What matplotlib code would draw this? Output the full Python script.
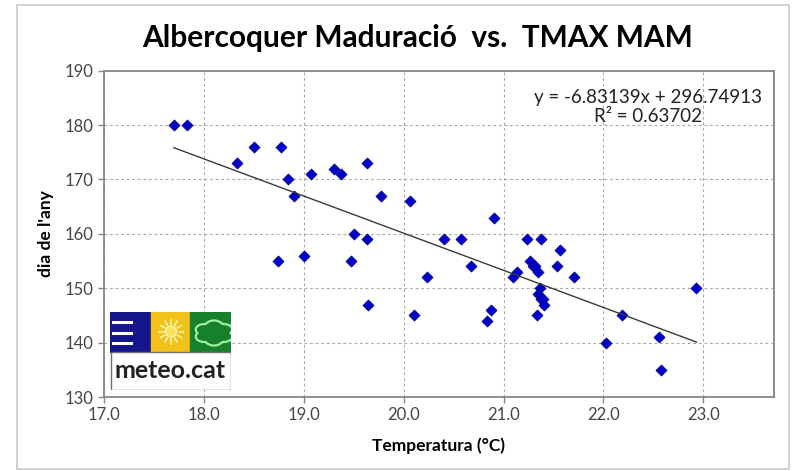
import numpy as np
import matplotlib.pyplot as plt
from matplotlib.patches import Rectangle, Circle, Polygon

# temperatura màxima mitjana MAM (°C) i dia de maduració
temp = [17.70, 17.83, 18.33, 18.50, 18.77, 18.84, 18.90, 18.74, 19.00, 19.07,
        19.30, 19.37, 19.50, 19.47, 19.63, 19.63, 19.64, 19.77, 20.06, 20.10,
        20.23, 20.40, 20.57, 20.67, 20.90, 20.87, 20.83, 21.09, 21.13, 21.23,
        21.37, 21.26, 21.29, 21.31, 21.34, 21.33, 21.36, 21.34, 21.37, 21.39,
        21.40, 21.56, 21.53, 21.70, 22.03, 22.19, 22.56, 22.58, 22.93]
dia = [180, 180, 173, 176, 176, 170, 167, 155, 156, 171,
       172, 171, 160, 155, 173, 159, 147, 167, 166, 145,
       152, 159, 159, 154, 163, 146, 144, 152, 153, 159,
       159, 155, 154, 154, 153, 145, 150, 149, 148, 148,
       147, 157, 154, 152, 140, 145, 141, 135, 150]

slope = -6.83139
intercept = 296.74913
r2 = 0.63702

xticks = [17.0, 18.0, 19.0, 20.0, 21.0, 22.0, 23.0]
yticks = [130, 140, 150, 160, 170, 180, 190]

plt.rcParams['font.family'] = ['Lato', 'DejaVu Sans']

W, H = 801, 471
fig = plt.figure(figsize=(W / 100, H / 100), dpi=100)

# outer chart frame
fig.patches.append(Rectangle((17 / W, 1 - 469 / H), 772 / W, 464 / H,
                             transform=fig.transFigure, fill=False,
                             edgecolor='#c8c8c8', linewidth=1.2))

ax = fig.add_axes([104 / W, 1 - 397 / H, 670 / W, 326.3 / H])
ax.set_xlim(17.0, 23.707)
ax.set_ylim(130, 190)

ax.grid(True, color='#a8a8a8', linestyle=(0, (2.5, 2.5)), linewidth=0.8)
ax.set_axisbelow(True)

ax.scatter(temp, dia, marker='D', s=32, color='#0000c8',
           edgecolors='#00008b', linewidths=0.5, zorder=3)

xfit = np.array([min(temp), max(temp)])
ax.plot(xfit, slope * xfit + intercept, color='#3a3a3a', linewidth=1.0, zorder=4)

fig.text(648 / W, 1 - 107 / H, f'y = {slope:.5f}x + {intercept:.5f}\nR² = {r2:.5f}',
         fontsize=13.5, ha='center', va='center', linespacing=1.2, color='#222222')

ax.set_xticks(xticks)
ax.set_xticklabels([f'{v:.1f}' for v in xticks])
ax.set_yticks(yticks)
ax.tick_params(axis='both', labelsize=12, labelcolor='#454545',
               color='#868686', length=4, width=1, direction='out')
for s in ax.spines.values():
    s.set_color('#868686')
    s.set_linewidth(1.3)

ax.set_xlabel('Temperatura (°C)', fontsize=12.5, fontweight='bold', labelpad=10)
ax.set_ylabel("dia de l'any", fontsize=12.5, fontweight='bold', labelpad=8)

fig.text(418 / W, 1 - 38 / H, 'Albercoquer Maduració  vs.  TMAX MAM',
         ha='center', va='center', fontsize=21.5, fontweight='bold')

# meteo.cat logo
lg = fig.add_axes([110 / W, 1 - 390 / H, 121 / W, 78 / H])
lg.set_xlim(0, 121)
lg.set_ylim(78, 0)
lg.axis('off')
lg.add_patch(Rectangle((0, 0), 41, 40, color='#15158c'))
lg.add_patch(Rectangle((41, 0), 39, 40, color='#f2c21a'))
lg.add_patch(Rectangle((80, 0), 41, 40, color='#16802e'))
for yy in (10, 21, 31):
    lg.plot([2.5, 21], [yy, yy], color='white', linewidth=2.2)
sun_c = (61, 19.5)
lg.add_patch(Circle(sun_c, 5.5, facecolor='#f8e060', edgecolor='#fff4b0', linewidth=1))
for a in np.linspace(0, 2 * np.pi, 12, endpoint=False):
    lg.plot([sun_c[0] + 7.5 * np.cos(a), sun_c[0] + 12 * np.cos(a)],
            [sun_c[1] + 7.5 * np.sin(a), sun_c[1] + 12 * np.sin(a)],
            color='#fff4b0', linewidth=1.2)
th = np.linspace(0, 2 * np.pi, 200)
rr = 11 + 2.2 * np.abs(np.sin(3 * th))
cloud = np.column_stack([104 + 1.5 * rr * np.cos(th), 21 + 0.95 * rr * np.sin(th)])
lg.add_patch(Polygon(cloud, closed=True, fill=False, edgecolor='#a0f0a0', linewidth=1.6))
lg.add_patch(Rectangle((0.5, 40), 120, 37.5, facecolor='white', edgecolor='#707070', linewidth=1))
lg.text(60.5, 59, 'meteo.cat', ha='center', va='center', fontsize=18,
        fontweight='bold', color='#222222')

fig.savefig('out.png', dpi=100)
